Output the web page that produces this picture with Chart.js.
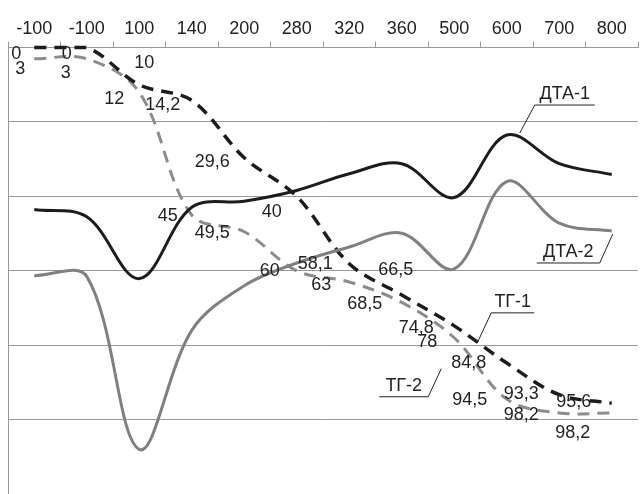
<!DOCTYPE html>
<html>
<head>
<meta charset="utf-8">
<script src="https://cdn.jsdelivr.net/npm/chart.js"></script>
<style>
  html, body { margin: 0; padding: 0; background: #fff; }
  .wrap { width: 643px; height: 494px; }
</style>
</head>
<body>
<div class="wrap"><canvas id="myChart" width="643" height="494"></canvas></div>
<script>
// temperature categories (top axis)
const categories = ['-100', '-100', '100', '140', '200', '280', '320', '360', '500', '600', '700', '800'];

// DTA curves (same vertical scale as TG)
const dta1 = [43.5, 45.5, 62.1, 42.9, 41.3, 38.4, 33.9, 31.2, 40.3, 23.5, 31.2, 34.1];
const dta2 = [61.3, 61.5, 108, 76, 64, 57.9, 53.6, 49.9, 59.5, 36, 47.2, 49.3];

// TG curves, mass loss %
const tg1 = [0, 0, 10, 14.2, 29.6, 40, 58.1, 66.5, 74.8, 84.8, 93.3, 95.6];
const tg2 = [3, 3, 12, 45, 49.5, 60, 63, 68.5, 78, 94.5, 98.2, 98.2];

const yTicks = [0, 20, 40, 60, 80, 100, 120];

const FONT = '"Liberation Sans", Arial, sans-serif';
const TEXT = '#222';

// where each TG value label sits relative to its point
const labelOffsets = {
    2: [[-18, 6], [-20, 6], [5, -22], [-29, 5], [-32, 4], [-25, 16], [-34, 0], [-6, -25], [-38, 2], [-38, 0], [-38, -1], [-38, -1]],
    3: [[-14, 10], [-21, 14], [-25, 7], [-24, 1], [-32, 1], [-27, 0], [-28, 3], [-37, 2], [-27, 4], [-37, 1], [-38, 2], [-39, 20]]
};

const valueLabels = {
    id: 'valueLabels',
    afterDatasetsDraw(chart) {
        const ctx = chart.ctx;
        ctx.save();
        ctx.font = '18px ' + FONT;
        ctx.fillStyle = TEXT;
        ctx.textAlign = 'center';
        ctx.textBaseline = 'middle';
        Object.keys(labelOffsets).forEach(k => {
            const dsIndex = +k;
            const meta = chart.getDatasetMeta(dsIndex);
            const values = chart.data.datasets[dsIndex].data;
            meta.data.forEach((pt, i) => {
                const off = labelOffsets[k][i];
                const txt = String(values[i]).replace('.', ',');
                ctx.fillText(txt, pt.x + off[0], pt.y + off[1]);
            });
        });
        ctx.restore();
    }
};

// series name callouts: tip on the curve, elbow, underline end
const callouts = [
    { text: 'ДТА-1', ds: 0, idx: 9, tip: [13, -2], elbow: [28, -30], end: [88, -30] },
    { text: 'ДТА-2', ds: 1, idx: 11, tip: [1, 3], elbow: [-12, 32], end: [-75, 32] },
    { text: 'ТГ-1', ds: 2, idx: 8, tip: [23, 17], elbow: [37, -13], end: [80, -13] },
    { text: 'ТГ-2', ds: 3, idx: 8, tip: [-13, 31], elbow: [-26, 59], end: [-75, 59] }
];

const calloutPlugin = {
    id: 'callouts',
    afterDatasetsDraw(chart) {
        const ctx = chart.ctx;
        ctx.save();
        ctx.strokeStyle = TEXT;
        ctx.lineWidth = 1;
        ctx.fillStyle = TEXT;
        ctx.font = '18px ' + FONT;
        ctx.textAlign = 'center';
        ctx.textBaseline = 'middle';
        callouts.forEach(c => {
            const pt = chart.getDatasetMeta(c.ds).data[c.idx];
            const tx = pt.x + c.tip[0], ty = pt.y + c.tip[1];
            const ex = pt.x + c.elbow[0], ey = pt.y + c.elbow[1];
            const fx = pt.x + c.end[0], fy = pt.y + c.end[1];
            ctx.beginPath();
            ctx.moveTo(tx, ty);
            ctx.lineTo(ex, ey);
            ctx.lineTo(fx, fy);
            ctx.stroke();
            ctx.fillText(c.text, (ex + fx) / 2, ey - 11);
        });
        ctx.restore();
    }
};

const ctx = document.getElementById('myChart');

new Chart(ctx, {
    type: 'line',
    data: {
        labels: categories,
        datasets: [
            {
                label: 'ДТА-1',
                data: dta1,
                borderColor: '#1c1c1c',
                borderWidth: 3,
                tension: 0.35,
                pointRadius: 0,
                fill: false
            },
            {
                label: 'ДТА-2',
                data: dta2,
                borderColor: '#808080',
                borderWidth: 3,
                tension: 0.35,
                pointRadius: 0,
                fill: false
            },
            {
                label: 'ТГ-1',
                data: tg1,
                borderColor: '#1c1c1c',
                borderWidth: 3.5,
                borderDash: [12, 8],
                tension: 0.35,
                pointRadius: 0,
                fill: false
            },
            {
                label: 'ТГ-2',
                data: tg2,
                borderColor: '#8c8c8c',
                borderWidth: 3,
                borderDash: [12, 8],
                tension: 0.35,
                pointRadius: 0,
                fill: false
            }
        ]
    },
    options: {
        responsive: false,
        animation: false,
        clip: 6,
        layout: {
            padding: { top: 16, left: 8, right: 5, bottom: 0 }
        },
        scales: {
            x: {
                position: 'top',
                offset: true,
                grid: {
                    offset: true,
                    drawOnChartArea: false,
                    drawTicks: true,
                    tickLength: 6,
                    tickColor: '#999'
                },
                border: { display: true, color: '#999' },
                ticks: {
                    color: TEXT,
                    padding: 2,
                    maxRotation: 0,
                    autoSkip: false,
                    font: { size: 18, family: FONT }
                }
            },
            y: {
                reverse: true,
                min: 0,
                max: 120,
                afterBuildTicks: axis => {
                    axis.ticks = yTicks.map(v => ({ value: v }));
                },
                grid: {
                    color: '#999',
                    drawTicks: false
                },
                border: { display: true, color: '#999' },
                ticks: { display: false }
            }
        },
        plugins: {
            legend: { display: false },
            tooltip: { enabled: false }
        }
    },
    plugins: [valueLabels, calloutPlugin]
});
</script>
</body>
</html>
